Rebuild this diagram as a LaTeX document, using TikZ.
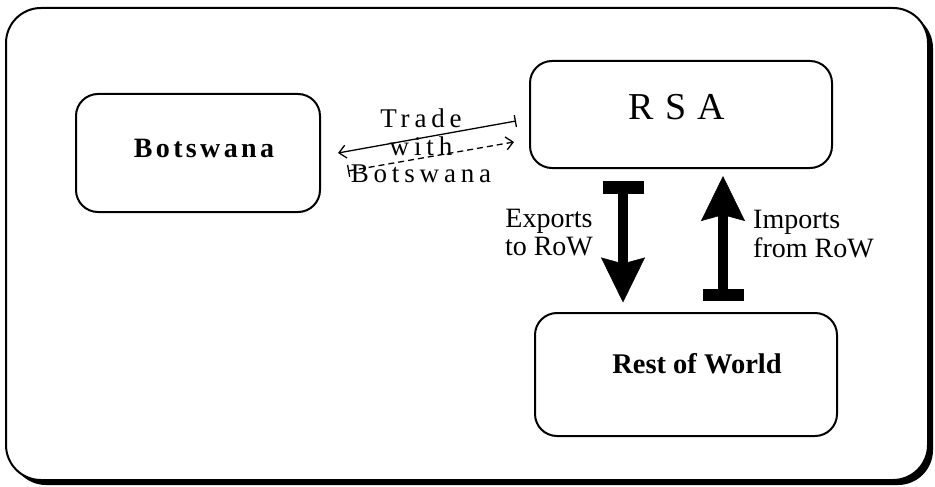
\documentclass[tikz,border=0pt]{standalone}
\usepackage{fontspec}
\setmainfont{Liberation Serif}
\newfontfamily\spacedA[LetterSpace=18]{Liberation Serif}
\newfontfamily\spacedB[LetterSpace=12]{Liberation Serif}
\newfontfamily\spacedC[LetterSpace=30]{Liberation Serif}
\usetikzlibrary{arrows.meta,calc}
\tikzset{
  box/.style={draw, line width=2pt, rounded corners=22pt, inner sep=0pt},
  fatarrow/.style={line width=10pt},
  thinarrow/.style={line width=1.3pt},
  lbl/.style={inner sep=0pt, align=center},
}
\begin{document}
\begin{tikzpicture}[x=1pt,y=-1pt]
\useasboundingbox (0,0) rectangle (935,487);
\fill[white] (0,0) rectangle (935,487);
% outer frame with shadow
\fill[black, rounded corners=35pt] (11,13) rectangle (933,485);
\draw[line width=2pt, fill=white, rounded corners=35pt] (6,8) rectangle (928,480);

% boxes
\node[box, minimum width=244pt, minimum height=118pt] (bots) at (198,153) {};
\node[box, minimum width=302pt, minimum height=107pt] (rsa) at (681,114.5) {};
\node[box, minimum width=302pt, minimum height=123pt] (row) at (686,374.5) {};

% box labels
\node[lbl, anchor=base, font={\spacedB\fontsize{28}{30}\selectfont\bfseries}] (botsT) at (204,157) {Botswana};
\node[lbl, anchor=base, font={\spacedC\fontsize{38}{42}\selectfont}] (rsaT) at (677,120) {RSA};
\node[lbl, anchor=base, font={\fontsize{28.5}{31}\selectfont\bfseries}] (rowT) at (697,373) {Rest of World};

% trade arrows
\coordinate (tS1) at ($(rsa.west)+(-13,6.5)$);
\coordinate (tE1) at ($(bots.east)+(17,0)$);
\coordinate (tS2) at ($(bots.east)+(27,18)$);
\coordinate (tE2) at ($(rsa.west)+(-15,27.5)$);
\draw[thinarrow, {Bar[width=12pt]}-{Straight Barb[length=7pt,width=13pt]}] (tS1) -- (tE1);
\draw[thinarrow, dash pattern=on 6pt off 4pt, {Bar[width=12pt]}-{Straight Barb[length=7pt,width=13pt]}] (tS2) -- (tE2);
\node[lbl, anchor=north, font={\spacedA\fontsize{27}{27.5}\selectfont}] (tradeT) at (421,109) {Trade\\with\\Botswana};

% export / import arrows
\coordinate (exA) at ($(rsa.south)+(-58,12)$);
\coordinate (exB) at ($(row.north)+(-63,-9.5)$);
\coordinate (imA) at ($(row.north)+(37,-11.5)$);
\coordinate (imB) at ($(rsa.south)+(42,7)$);
\draw[fatarrow, {Rectangle[length=12pt,width=41pt,line width=0.5pt]}-{Stealth[length=45pt,width=44pt,inset=6pt,line width=0.5pt]}] (exA) -- (exB);
\draw[fatarrow, {Rectangle[length=12pt,width=41pt,line width=0.5pt]}-{Stealth[length=45pt,width=44pt,inset=6pt,line width=0.5pt]}] (imA) -- (imB);

\node[lbl, anchor=north, font={\fontsize{28}{28.5}\selectfont}] (exT) at (549,208.5) {Exports\\to RoW};
\node[lbl, anchor=north west, align=left, font={\fontsize{28}{29}\selectfont}] (imT) at (753,209.5) {Imports\\from RoW};
\end{tikzpicture}
\end{document}
